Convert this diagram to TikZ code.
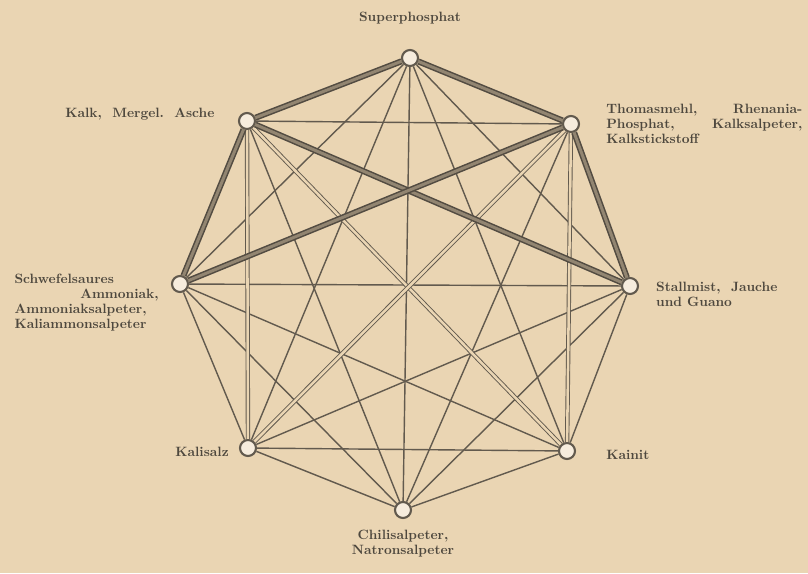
\documentclass[tikz,border=0pt]{standalone}
\usetikzlibrary{positioning}

\definecolor{paper}{RGB}{234,213,179}
\definecolor{ink}{RGB}{98,90,78}

\begin{document}
\begin{tikzpicture}[
    x=0.025cm, y=-0.025cm,
    station/.style={circle, draw=ink, line width=1.5pt, fill=paper!45!white, minimum size=0.4cm, inner sep=0pt},
    lbl/.style={font=\bfseries\fontsize{9.6}{10.6}\selectfont, text=ink!80!black, inner sep=0pt},
    mix/.style={draw=ink, line width=1pt},
    later/.style={draw=ink, line width=0.65pt, double=paper, double distance=1.8pt},
    never/.style={draw=ink!85!black, line width=1.1pt, double=ink!65!paper, double distance=2.1pt}
]

% Paper
\fill[paper] (0,0) rectangle (808,573);
\useasboundingbox (0,0) rectangle (808,573);

% Stations of the octagon
\node[station] (sup) at (410,58) {};
\node[station] (kalk) at (247,121) {};
\node[station] (thom) at (571,124) {};
\node[station] (amm) at (180,284) {};
\node[station] (mist) at (630,286) {};
\node[station] (kali) at (248,448) {};
\node[station] (kain) at (567,451) {};
\node[station] (chili) at (403,510) {};

% Labels
\node[lbl, above=0.62cm of sup] {Superphosphat};
\node[lbl, left=0.58cm of kalk, yshift=0.17cm] {Kalk,\ \ Mergel.\ \ Asche};
\node[lbl, right=0.65cm of thom, text width=4.9cm, align=left] (thomtxt)
    {Thomasmehl,\hfill Rhenania-\\Phosphat,\hfill Kalksalpeter,\\Kalkstickstoff};
\node[lbl, left=0.3cm of amm, yshift=-0.47cm, text width=3.6cm, align=left] (ammtxt)
    {Schwefelsaures\\\hfill Ammoniak,\\Ammoniaksalpeter,\\Kaliammonsalpeter};
\node[lbl, right=0.42cm of mist, yshift=-0.2cm, align=left] {Stallmist,\ \ Jauche\\und Guano};
\node[lbl, left=0.25cm of kali, yshift=-0.1cm] {Kalisalz};
\node[lbl, right=0.75cm of kain, yshift=-0.1cm] {Kainit};
\node[lbl, below=0.28cm of chili, align=center] {Chilisalpeter,\\Natronsalpeter};

% Connections: may be mixed
\foreach \a/\b in {sup/amm, sup/mist, sup/kali, sup/kain, sup/chili,
    kalk/thom, kalk/chili, thom/chili,
    amm/mist, amm/kali, amm/kain, amm/chili,
    mist/kali, mist/kain, mist/chili,
    kali/kain, kali/chili, kain/chili}
  \draw[mix] (\a) -- (\b);

% only just before use
\foreach \a/\b in {kalk/kali, kalk/kain, thom/kain, thom/kali}
  \draw[later] (\a) -- (\b);

% never
\foreach \a/\b in {sup/kalk, sup/thom, kalk/amm, thom/mist, kalk/mist, thom/amm}
  \draw[never] (\a) -- (\b);

\end{tikzpicture}
\end{document}
